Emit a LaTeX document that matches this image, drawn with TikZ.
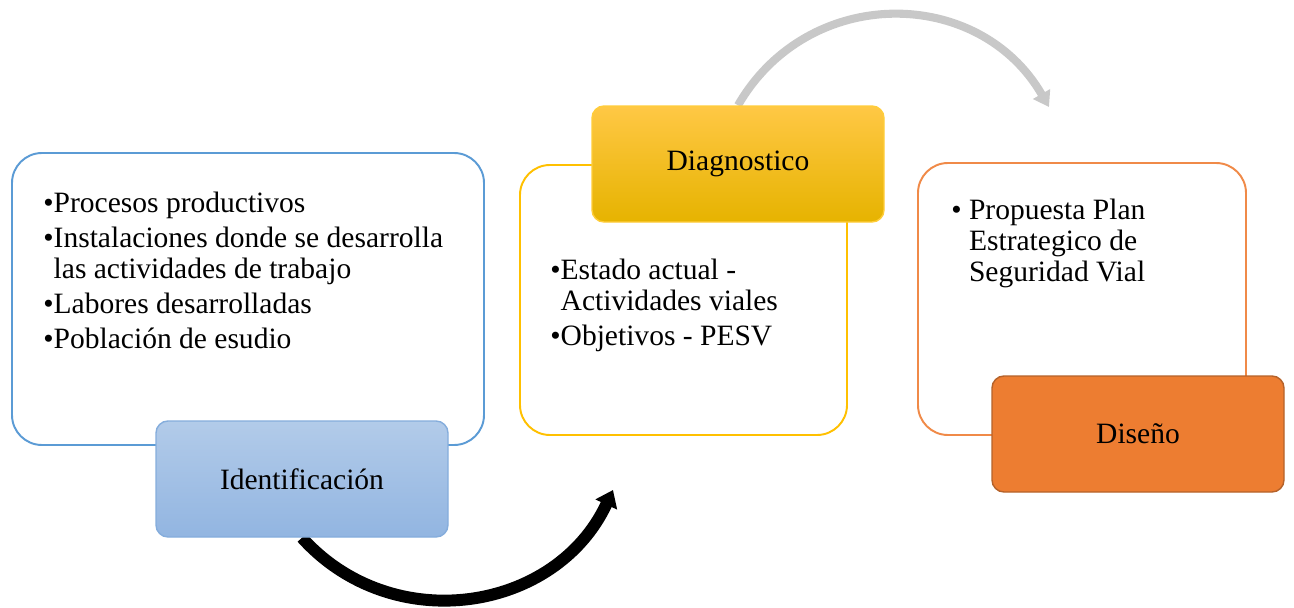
\documentclass[tikz,border=0pt]{standalone}
\usepackage{fontspec}
\setmainfont{Liberation Serif}
\usetikzlibrary{arrows.meta,backgrounds}
\definecolor{blueline}{HTML}{5B9BD5}
\definecolor{identline}{HTML}{85ADDC}
\definecolor{identtop}{HTML}{B2CBE9}
\definecolor{identbot}{HTML}{92B5E1}
\definecolor{yellowline}{HTML}{FFC000}
\definecolor{diagline}{HTML}{FFCD3A}
\definecolor{diagtop}{HTML}{FFC845}
\definecolor{diagmid}{HTML}{FFC000}
\definecolor{diagbot}{HTML}{E6B300}
\definecolor{orangeline}{HTML}{F08A48}
\definecolor{disfill}{HTML}{ED7D31}
\definecolor{disline}{HTML}{B5622A}
\definecolor{arrowgray}{HTML}{C8C8C8}

\begin{document}
\begin{tikzpicture}[
  font=\fontsize{16.8}{17.6}\selectfont,
  outerbox/.style={draw,line width=1.1pt,rounded corners=0.6cm,fill=white},
  titlebox/.style={draw,line width=0.8pt,rounded corners=0.24cm,minimum width=5.84cm,minimum height=2.32cm},
  list/.style={anchor=north west,inner sep=0pt,align=left}
]
\useasboundingbox (0,0) rectangle (25.88,12.14);

% outline boxes
\node[outerbox,draw=blueline,minimum width=9.44cm,minimum height=5.84cm] (B1) at (4.96,6.16) {};
\node[outerbox,draw=yellowline,minimum width=6.54cm,minimum height=5.4cm] (B2) at (13.67,6.14) {};
\node[outerbox,draw=orangeline,minimum width=6.56cm,minimum height=5.44cm] (B3) at (21.64,6.16) {};

\node[list] (L1) at (0.86,8.3) {\textbullet Procesos productivos\\[2.3pt]
  \textbullet Instalaciones donde se desarrolla\\
  \hphantom{\textbullet}las actividades de trabajo\\[2.3pt]
  \textbullet Labores desarrolladas\\[2.3pt]
  \textbullet Población de esudio};
\node[list] (L2) at (11.0,6.96) {\textbullet Estado actual -\\
  \hphantom{\textbullet}Actividades viales\\[2.3pt]
  \textbullet Objetivos - PESV};
\node[list] (L3) at (19.02,8.16) {\textbullet\ Propuesta Plan\\
  \hphantom{\textbullet\ }Estrategico de\\
  \hphantom{\textbullet\ }Seguridad Vial};

% title boxes
\node[titlebox,draw=identline,top color=identtop,bottom color=identbot] (T1) at (6.04,2.56) {Identificación};
\node[titlebox,draw=diagline,top color=diagtop,middle color=diagmid,bottom color=diagbot] (T2) at (14.76,8.86) {Diagnostico};
\node[titlebox,draw=disline,fill=disfill] (T3) at (22.76,3.46) {Diseño};

% arrows
\coordinate (E1) at (12.26,2.34);
\coordinate (E2) at (20.98,10.0);
\begin{pgfonlayer}{background}
\draw[line width=6.8pt,-{Triangle[width=0.46cm,length=0.32cm]}] (T1.south) to[out=-48,in=245,looseness=1.1] (E1);
\draw[line width=4.6pt,arrowgray,-{Triangle[width=0.38cm,length=0.3cm]}] (T2.north) to[out=60,in=120,looseness=1.15] (E2);
\end{pgfonlayer}

\end{tikzpicture}
\end{document}
